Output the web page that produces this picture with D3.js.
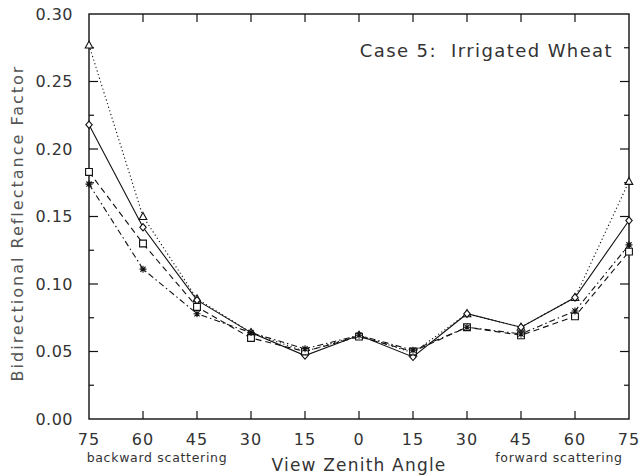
<!DOCTYPE html>
<html>
<head>
	<meta charset="utf-8">
	<title>Case 5: Irrigated Wheat</title>
	<style>
		body { margin: 0; background: white; }
		svg { display: block; font-family: 'DejaVu Sans', sans-serif; }
		.lbl { fill: #333; }
	</style>
</head>
<body>
<svg width="642" height="475"></svg>
<script src="https://d3js.org/d3.v7.min.js"></script>
<script>

	// view zenith angles, backward side then forward side
	let angles = ['75', '60', '45', '30', '15', '0', '15', '30', '45', '60', '75']
	let yTicks = [0, 0.05, 0.10, 0.15, 0.20, 0.25, 0.30]

	// four series
	let diamondVals  = [0.218, 0.142, 0.088, 0.064, 0.047, 0.062, 0.046, 0.078, 0.068, 0.090, 0.147]
	let triangleVals = [0.277, 0.150, 0.089, 0.064, 0.050, 0.062, 0.049, 0.078, 0.068, 0.090, 0.176]
	let squareVals   = [0.183, 0.130, 0.083, 0.060, 0.050, 0.061, 0.050, 0.068, 0.062, 0.076, 0.124]
	let starVals     = [0.174, 0.111, 0.078, 0.064, 0.052, 0.062, 0.051, 0.068, 0.063, 0.080, 0.129]

	let series = [
		{ vals: triangleVals, dash: '1.2,2.6', marker: 'triangle' },
		{ vals: diamondVals, dash: null, marker: 'diamond' },
		{ vals: squareVals, dash: '6,4', marker: 'square' },
		{ vals: starVals, dash: '6,3,1.5,3', marker: 'star' }
	]

	let svg = d3.select('svg')

	let pLeft = 89, pRight = 629, pTop = 14, pBottom = 419

	// use index so repeated angle labels stay separate
	let x = d3.scalePoint()
		.domain(d3.range(angles.length))
		.range([pLeft, pRight])

	let y = d3.scaleLinear()
		.domain([0, 0.30])
		.range([pBottom, pTop])

	// frame
	svg.append('rect')
		.attr('x', pLeft).attr('y', pTop)
		.attr('width', pRight - pLeft).attr('height', pBottom - pTop)
		.style('fill', 'none')
		.style('stroke', '#111')
		.style('stroke-width', 1.4)

	// inward ticks on all four sides
	let g = svg.append('g').style('stroke', '#111').style('stroke-width', 1.2)
	d3.range(angles.length).forEach(i => {
		if (i == 0 || i == angles.length - 1) return
		g.append('line').attr('x1', x(i)).attr('x2', x(i)).attr('y1', pBottom).attr('y2', pBottom - 8)
		g.append('line').attr('x1', x(i)).attr('x2', x(i)).attr('y1', pTop).attr('y2', pTop + 8)
	})
	let minor = d3.range(0.025, 0.3, 0.025)
	minor.forEach(v => {
		let major = Math.abs(Math.round(v / 0.05) * 0.05 - v) < 1e-6
		let len = major ? 9 : 5
		g.append('line').attr('x1', pLeft).attr('x2', pLeft + len).attr('y1', y(v)).attr('y2', y(v))
		g.append('line').attr('x1', pRight).attr('x2', pRight - len).attr('y1', y(v)).attr('y2', y(v))
	})

	// tick labels
	svg.append('g').selectAll('text')
		.data(yTicks)
		.join('text')
		.attr('class', 'lbl')
		.attr('x', pLeft - 16)
		.attr('y', d => y(d))
		.attr('dy', '0.35em')
		.attr('text-anchor', 'end')
		.style('font-size', '16px')
		.style('letter-spacing', '0.5px')
		.text(d => d3.format('.2f')(d))

	svg.append('g').selectAll('text')
		.data(angles)
		.join('text')
		.attr('class', 'lbl')
		.attr('x', (d, i) => x(i))
		.attr('y', 445)
		.attr('text-anchor', 'middle')
		.style('font-size', '16px')
		.style('letter-spacing', '1px')
		.text(d => d)

	svg.append('text').attr('class', 'lbl')
		.attr('x', 157).attr('y', 462)
		.attr('text-anchor', 'middle')
		.style('font-size', '12.5px')
		.style('letter-spacing', '0.7px')
		.text('backward scattering')

	svg.append('text').attr('class', 'lbl')
		.attr('x', 559).attr('y', 462)
		.attr('text-anchor', 'middle')
		.style('font-size', '12.5px')
		.style('letter-spacing', '0.7px')
		.text('forward scattering')

	svg.append('text').attr('class', 'lbl')
		.attr('x', (pLeft + pRight) / 2).attr('y', 471)
		.attr('text-anchor', 'middle')
		.style('font-size', '17px')
		.style('letter-spacing', '1.2px')
		.text('View Zenith Angle')

	svg.append('text').attr('class', 'lbl')
		.attr('transform', 'translate(23,223) rotate(-90)')
		.attr('text-anchor', 'middle')
		.style('font-size', '16px')
		.style('letter-spacing', '2px')
		.style('fill', '#555')
		.text('Bidirectional Reflectance Factor')

	svg.append('text').attr('class', 'lbl')
		.attr('x', 613).attr('y', 57)
		.attr('text-anchor', 'end')
		.style('font-size', '18px')
		.style('letter-spacing', '1.4px')
		.style('white-space', 'pre')
		.text('Case 5:  Irrigated Wheat')

	// lines
	let line = d3.line()
		.x((d, i) => x(i))
		.y(d => y(d))

	series.forEach(s => {
		svg.append('path')
			.attr('d', line(s.vals))
			.style('fill', 'none')
			.style('stroke', '#111')
			.style('stroke-width', 1.1)
			.style('stroke-dasharray', s.dash)
	})

	// markers
	let markerPath = {
		triangle: 'M0,-4L3.8,3L-3.8,3Z',
		diamond: 'M0,-3.6L3.2,0L0,3.6L-3.2,0Z',
		square: 'M-3.4,-3.4H3.4V3.4H-3.4Z',
		star: 'M-3.5,0H3.5M0,-3.5V3.5M-2.6,-2.6L2.6,2.6M-2.6,2.6L2.6,-2.6'
	}

	series.forEach(s => {
		svg.append('g').selectAll('path')
			.data(s.vals)
			.join('path')
			.attr('transform', (d, i) => 'translate(' + x(i) + ',' + y(d) + ')')
			.attr('d', markerPath[s.marker])
			.style('fill', s.marker == 'star' ? 'none' : 'white')
			.style('stroke', '#111')
			.style('stroke-width', 1.1)
	})

</script>
</body>
</html>
